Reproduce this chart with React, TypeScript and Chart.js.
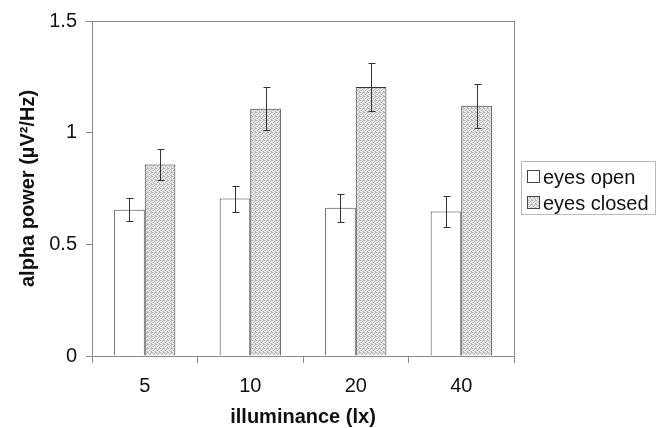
import React, { useEffect, useRef } from 'react';
import { Chart, registerables } from 'chart.js';

Chart.register(...registerables);

const categories = ['5', '10', '20', '40'];
const seriesLabels = ['eyes open', 'eyes closed'];
const eyesOpen = [0.655, 0.705, 0.664, 0.647];
const eyesOpenErr = [0.052, 0.058, 0.062, 0.07];
const eyesClosed = [0.857, 1.107, 1.205, 1.12];
const eyesClosedErr = [0.069, 0.097, 0.107, 0.1];
const yTicks = [0, 0.5, 1, 1.5];

const FONT = 'Liberation Sans, Arial, Helvetica, sans-serif';

export default function App() {
  const ref = useRef<HTMLCanvasElement>(null);

  useEffect(() => {
    document.body.style.margin = '0';
    const canvas = ref.current!;
    const ctx = canvas.getContext('2d')!;

    const pc = document.createElement('canvas');
    pc.width = 4;
    pc.height = 4;
    const pctx = pc.getContext('2d')!;
    pctx.fillStyle = '#e6e6e6';
    pctx.fillRect(0, 0, 4, 4);
    pctx.fillStyle = '#b0b0b0';
    [[0, 0], [2, 1], [1, 2], [3, 3], [3, 0]].forEach(([x, y]) => pctx.fillRect(x, y, 1, 1));
    const pattern = ctx.createPattern(pc, 'repeat')!;

    const errors = [eyesOpenErr, eyesClosedErr];

    const errorBarPlugin = {
      id: 'errorBars',
      afterDatasetsDraw(chart: any) {
        const c = chart.ctx;
        const yScale = chart.scales.y;
        c.save();
        c.strokeStyle = '#333';
        c.lineWidth = 1;
        chart.data.datasets.forEach((ds: any, di: number) => {
          const meta = chart.getDatasetMeta(di);
          meta.data.forEach((bar: any, i: number) => {
            const v = ds.data[i];
            const e = errors[di][i];
            const x = Math.round(bar.x) + 0.5;
            const yt = Math.round(yScale.getPixelForValue(v + e)) + 0.5;
            const yb = Math.round(yScale.getPixelForValue(v - e)) + 0.5;
            c.beginPath();
            c.moveTo(x, yt);
            c.lineTo(x, yb);
            c.moveTo(x - 3, yt);
            c.lineTo(x + 4, yt);
            c.moveTo(x - 3, yb);
            c.lineTo(x + 4, yb);
            c.stroke();
          });
        });
        c.restore();
      },
    };

    const framePlugin = {
      id: 'frame',
      beforeDatasetsDraw(chart: any) {
        const { left, top, right, bottom } = chart.chartArea;
        const c = chart.ctx;
        c.save();
        c.strokeStyle = '#8a8a8a';
        c.lineWidth = 1;
        c.strokeRect(Math.round(left) + 0.5, Math.round(top) + 0.5, Math.round(right - left), Math.round(bottom - top));
        c.restore();
      },
    };

    const legendPlugin = {
      id: 'boxLegend',
      afterDraw(chart: any) {
        const c = chart.ctx;
        c.save();
        c.strokeStyle = '#bbbbbb';
        c.lineWidth = 1;
        c.strokeRect(521.5, 161.5, 134, 53);
        const fills = ['#ffffff', pattern];
        const rows = [177, 203];
        c.font = `20px ${FONT}`;
        c.textBaseline = 'middle';
        chart.data.datasets.forEach((ds: any, i: number) => {
          const y = rows[i];
          c.fillStyle = fills[i] as any;
          c.fillRect(527.5, y - 6.5, 12, 12);
          c.strokeStyle = '#444';
          c.strokeRect(527.5, y - 6.5, 12, 12);
          c.fillStyle = '#111';
          c.fillText(ds.label, 543, y + 1);
        });
        c.restore();
      },
    };

    const chart = new Chart(canvas, {
      type: 'bar',
      data: {
        labels: categories,
        datasets: [
          {
            label: seriesLabels[0],
            data: eyesOpen,
            backgroundColor: '#ffffff',
            borderColor: '#444',
            borderWidth: 1,
            categoryPercentage: 0.58,
            barPercentage: 1.0,
          },
          {
            label: seriesLabels[1],
            data: eyesClosed,
            backgroundColor: pattern as any,
            borderColor: '#333',
            borderWidth: 1,
            categoryPercentage: 0.58,
            barPercentage: 1.0,
          },
        ],
      },
      options: {
        responsive: false,
        animation: false,
        devicePixelRatio: 1,
        layout: { padding: { top: 20, right: 146, left: 0, bottom: 0 } },
        plugins: {
          legend: { display: false },
          tooltip: { enabled: false },
        },
        scales: {
          x: {
            type: 'category',
            offset: true,
            grid: {
              display: true,
              offset: true,
              drawOnChartArea: false,
              drawTicks: true,
              tickLength: 7,
              color: '#8a8a8a',
            },
            border: { display: true, color: '#8a8a8a' },
            ticks: { font: { family: FONT, size: 20 }, color: '#111', padding: 11 },
            title: {
              display: true,
              text: 'illuminance (lx)',
              font: { family: FONT, size: 20, weight: 'bold' },
              color: '#111',
              padding: { top: 0, bottom: -1 },
            },
            afterFit: (s: any) => {
              s.height = 72;
            },
          },
          y: {
            min: yTicks[0],
            max: yTicks[yTicks.length - 1],
            afterBuildTicks: (s: any) => {
              s.ticks = yTicks.map((v) => ({ value: v }));
            },
            grid: {
              display: true,
              drawOnChartArea: false,
              drawTicks: true,
              tickLength: 6,
              color: '#8a8a8a',
            },
            border: { display: true, color: '#8a8a8a' },
            ticks: {
              font: { family: FONT, size: 20 },
              color: '#111',
              padding: 9,
              callback: (v: any) => String(v),
            },
            title: {
              display: true,
              text: 'alpha power (µV²/Hz)',
              font: { family: FONT, size: 20, weight: 'bold' },
              color: '#111',
              padding: { top: 16, bottom: 0 },
            },
            afterFit: (s: any) => {
              s.width = 92;
            },
          },
        },
      },
      plugins: [framePlugin, errorBarPlugin, legendPlugin],
    });

    return () => chart.destroy();
  }, []);

  return (
    <div style={{ width: 660, height: 428, position: 'relative' }}>
      <canvas ref={ref} width={660} height={428} style={{ display: 'block', width: 660, height: 428 }} />
    </div>
  );
}
